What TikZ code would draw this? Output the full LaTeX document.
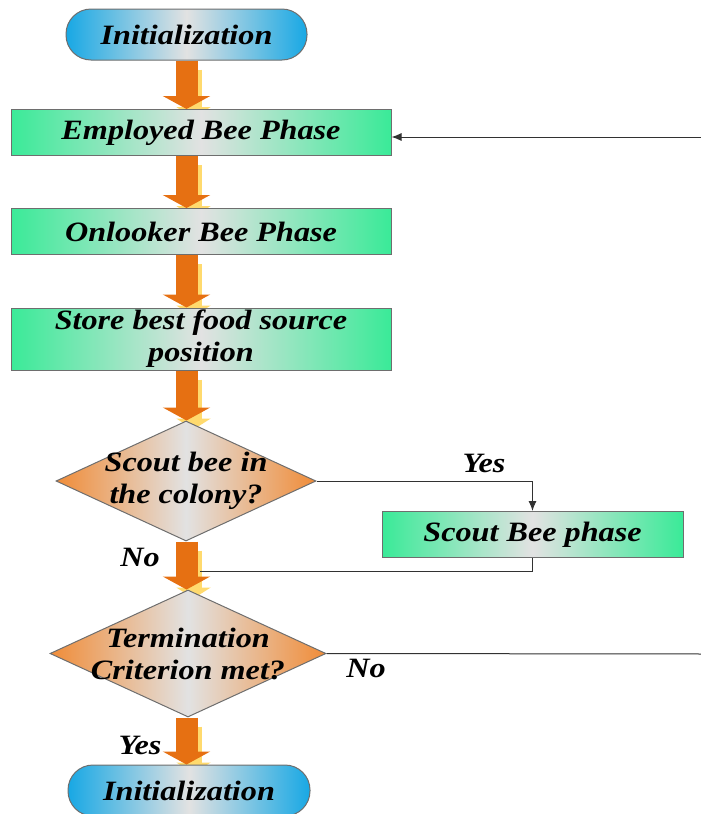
\documentclass[tikz,border=0pt]{standalone}
\usepackage{fontspec}
\newfontfamily\flowfont[FakeStretch=1.15]{Liberation Serif}
\usetikzlibrary{positioning,shapes,arrows.meta}
\pgfdeclarelayer{background}
\pgfsetlayers{background,main}
\definecolor{boxgreen}{RGB}{58,234,152}
\definecolor{midgray}{RGB}{226,226,226}
\definecolor{capblue}{RGB}{24,168,228}
\definecolor{diaorange}{RGB}{240,140,56}
\definecolor{arroworange}{RGB}{230,112,18}
\definecolor{shadowyellow}{RGB}{255,218,110}
\definecolor{edgegray}{RGB}{110,110,110}
\definecolor{linkgray}{RGB}{50,50,50}

\begin{document}
\begin{tikzpicture}[x=1pt,y=-1pt,
  flowtext/.style={font={\flowfont\fontsize{28}{32}\selectfont\bfseries\itshape}, align=center, inner sep=0pt},
  process/.style={flowtext, rectangle, draw=edgegray, line width=1pt, left color=boxgreen, right color=boxgreen, middle color=midgray, minimum width=380pt, minimum height=46pt},
  terminal/.style={flowtext, rectangle, rounded corners=25pt, draw=edgegray, line width=1pt, left color=capblue, right color=capblue, middle color=midgray, minimum width=241pt, minimum height=51pt},
  decision/.style={diamond, draw=edgegray, line width=1pt, left color=diaorange, right color=diaorange, middle color=midgray, inner sep=0pt, minimum width=260pt, minimum height=120pt},
  bigarrow/.style={arroworange, line width=22pt, -{Triangle[width=47pt,length=13pt]},
    preaction={draw=shadowyellow, line width=16pt, -{Triangle[width=34pt,length=11pt]}, transform canvas={xshift=7pt,yshift=-9pt}}},
  link/.style={draw=linkgray, line width=1pt},
  linkarrow/.style={link, -{Latex[length=10pt,width=8pt]}}]
\clip (0,0) rectangle (701,814);

% boxes
\node[terminal] (init) at (186.5,34.5) {Initialization};
\node[process] (emp) at (201,132.5) {Employed Bee Phase};
\node[process] (onl) at (201,231.5) {Onlooker Bee Phase};
\node[process, minimum height=62pt] (store) at (201,339) {Store best food source\\position};
\node[decision] (scout) at (186,481) {};
\node[flowtext] (scouttext) at (scout) {Scout bee in\\the colony?};
\node[process, minimum width=301pt] (sbp) at (532.5,534.5) {Scout Bee phase};
\node[decision, minimum width=276pt, minimum height=127pt] (term) at (188,653.5) {};
\node[flowtext] (termtext) at (term) {Termination\\Criterion met?};
\node[terminal, minimum width=242pt] (fin) at (189,790.5) {Initialization};

% labels
\node[flowtext] (yes1) at (484,463) {Yes};
\node[flowtext] (no1) at (140,557) {No};
\node[flowtext] (no2) at (366,668) {No};
\node[flowtext] (yes2) at (140,745) {Yes};

% loose ends at the right border
\coordinate (backin) at (705,137);
\coordinate (backout) at (705,654);
\coordinate (loopend) at (200,571);

% thick arrows
\begin{pgfonlayer}{background}
\draw[bigarrow] (init.south) -- (init.south |- emp.north);
\draw[bigarrow] (emp.south -| init) -- (onl.north -| init);
\draw[bigarrow] (onl.south -| init) -- (store.north -| init);
\draw[bigarrow] (store.south -| init) -- (scout.north -| init);
\draw[bigarrow] (scout.south -| init) -- (term.north -| init);
\draw[bigarrow] (term.south -| init) -- (fin.north -| init);
\end{pgfonlayer}

% thin connectors
\draw[linkarrow] (backin) -- (backin -| emp.east);
\draw[link] (term.east) -- (backout);
\draw[linkarrow] (scout.east) -| (sbp.north);
\draw[link] (sbp.south) |- (loopend);
\end{tikzpicture}
\end{document}
